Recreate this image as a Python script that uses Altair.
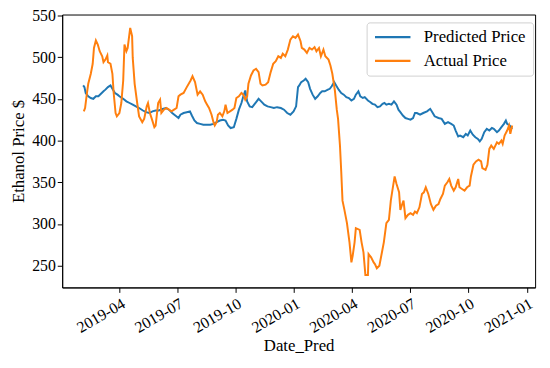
import altair as alt
import pandas as pd

# Day offsets counted from 2019-02-01, and prices
pred_day = [2, 4, 6, 10, 14, 18, 22, 26, 30, 34, 37, 41, 45, 48, 52, 56, 59, 65, 70, 75,
            80, 85, 90, 96, 101, 106, 111, 116, 121, 127, 132, 137, 142, 147, 152, 155, 160, 165, 170, 173,
            177, 181, 186, 191, 196, 202, 207, 212, 217, 222, 226, 230, 234, 239, 243, 247, 251, 254, 257, 260,
            264, 268, 271, 275, 278, 282, 287, 292, 297, 302, 307, 313, 318, 323, 328, 333, 337, 340, 342, 345,
            349, 352, 356, 359, 363, 367, 371, 375, 378, 382, 387, 390, 393, 397, 400, 404, 408, 412, 416, 420,
            424, 428, 431, 435, 438, 442, 445, 450, 454, 457, 461, 465, 469, 473, 476, 479, 483, 487, 491, 495,
            498, 501, 505, 509, 513, 517, 521, 524, 527, 532, 537, 543, 548, 552, 555, 561, 566, 571, 576, 581,
            585, 588, 592, 595, 600, 604, 607, 611, 615, 619, 623, 626, 629, 633, 637, 641, 645, 648, 653, 656,
            660, 664, 667, 669, 673, 677]
pred_price = [466, 464, 457, 453, 451, 450, 453, 453, 456, 459, 461, 464, 466, 462, 457, 455, 453, 450, 447, 445,
              443, 441, 439, 436, 434, 433, 435, 436, 436, 438, 439, 437, 433, 430, 427, 431, 433, 434, 435, 430,
              424, 421, 420, 419, 419, 419, 420, 422, 424, 425, 424, 418, 415, 416, 426, 437, 445, 453, 460, 447,
              441, 440, 443, 447, 450, 447, 443, 441, 440, 439, 440, 439, 437, 433, 431, 435, 441, 464, 466, 470,
              472, 474, 470, 462, 455, 450, 453, 457, 459, 459, 461, 462, 465, 470, 466, 461, 457, 455, 452, 451,
              448, 450, 455, 459, 453, 451, 452, 448, 446, 444, 443, 440, 441, 444, 445, 443, 444, 443, 447, 443,
              437, 434, 430, 427, 426, 425, 427, 433, 433, 431, 433, 435, 438, 433, 429, 427, 426, 420, 422, 420,
              418, 412, 405, 406, 404, 408, 406, 412, 407, 404, 402, 399, 402, 410, 414, 412, 415, 414, 410, 412,
              416, 420, 424, 420, 418, 414]

act_day = [3, 5, 8, 10, 14, 17, 19, 22, 25, 28, 32, 34, 37, 40, 41, 45, 48, 50, 53, 55,
           59, 62, 65, 67, 70, 72, 76, 79, 80, 83, 87, 90, 95, 98, 102, 104, 107, 110, 114, 116,
           120, 123, 125, 129, 133, 137, 141, 145, 149, 152, 155, 160, 165, 171, 174, 178, 182, 186, 190, 194,
           197, 200, 204, 207, 209, 212, 214, 217, 221, 224, 226, 229, 233, 237, 240, 243, 247, 251, 254, 257,
           260, 262, 266, 270, 274, 278, 281, 284, 289, 293, 297, 301, 305, 309, 313, 316, 320, 324, 328, 332,
           336, 340, 344, 346, 350, 354, 358, 362, 366, 369, 373, 376, 380, 383, 388, 391, 394, 398, 401, 403,
           406, 408, 410, 413, 417, 421, 424, 426, 429, 431, 437, 440, 443, 446, 450, 451, 455, 459, 461, 464,
           468, 471, 475, 479, 483, 486, 488, 492, 495, 499, 501, 504, 506, 509, 513, 517, 521, 524, 527, 531,
           535, 538, 541, 545, 549, 553, 557, 561, 564, 568, 571, 575, 578, 581, 585, 588, 592, 594, 598, 602,
           606, 610, 612, 616, 620, 624, 628, 630, 635, 638, 641, 644, 648, 653, 656, 660, 662, 665, 669, 672,
           674, 677]
act_price = [435, 439, 457, 468, 480, 492, 511, 520, 515, 507, 501, 494, 497, 502, 494, 492, 480, 457, 433, 429,
             433, 445, 472, 515, 507, 511, 535, 525, 499, 468, 445, 429, 422, 426, 441, 445, 433, 426, 416, 418,
             445, 449, 433, 437, 439, 437, 435, 437, 439, 453, 455, 457, 464, 472, 477, 470, 455, 459, 455, 447,
             443, 439, 431, 422, 418, 422, 431, 433, 429, 435, 443, 433, 435, 437, 439, 451, 453, 457, 455, 449,
             453, 468, 478, 484, 486, 482, 468, 466, 467, 470, 482, 492, 495, 501, 499, 504, 501, 509, 521, 525,
             523, 527, 519, 511, 509, 505, 511, 509, 512, 507, 511, 501, 509, 501, 497, 490, 480, 460, 437, 426,
             394, 363, 328, 317, 301, 278, 254, 262, 278, 295, 293, 278, 266, 239, 239, 264, 260, 254, 252, 247,
             250, 262, 278, 301, 305, 328, 338, 357, 348, 338, 317, 324, 328, 307, 311, 313, 311, 315, 313, 320,
             336, 338, 344, 336, 324, 317, 322, 324, 330, 336, 346, 350, 354, 346, 340, 344, 354, 344, 342, 340,
             344, 346, 357, 371, 375, 377, 375, 367, 365, 371, 390, 394, 390, 398, 396, 400, 396, 406, 412, 418,
             408, 418]

series_names = ["Predicted Price", "Actual Price"]
series_colors = ["#1f77b4", "#ff7f0e"]
y_ticks = [250, 300, 350, 400, 450, 500, 550]

base = pd.Timestamp("2019-02-01")


def to_dates(days):
    return [(base + pd.Timedelta(days=d)).strftime("%Y-%m-%d") for d in days]


pred_df = pd.DataFrame({"Date_Pred": to_dates(pred_day), "price": pred_price, "series": series_names[0]})
act_df = pd.DataFrame({"Date_Pred": to_dates(act_day), "price": act_price, "series": series_names[1]})

FONT = "Liberation Serif"

x_enc = alt.X(
    "Date_Pred:T",
    title="Date_Pred",
    scale=alt.Scale(
        type="utc",
        domain=[alt.DateTime(year=2019, month=1, date=1, utc=True),
                alt.DateTime(year=2021, month=1, date=14, utc=True)],
    ),
    axis=alt.Axis(
        values=[alt.DateTime(year=y, month=m, date=1, utc=True)
                for y, m in [(2019, 4), (2019, 7), (2019, 10), (2020, 1), (2020, 4), (2020, 7), (2020, 10), (2021, 1)]],
        format="%Y-%m",
        labelAngle=330,
        labelAlign="right",
        labelBaseline="top",
        labelPadding=3,
        labelFont=FONT,
        labelFontSize=16,
        titleFont=FONT,
        titlePadding=2,
    ),
)
y_enc = alt.Y(
    "price:Q",
    title="Ethanol Price $",
    scale=alt.Scale(domain=[224, 551], nice=False, zero=False),
    axis=alt.Axis(values=y_ticks, titlePadding=4, labelFont=FONT, labelFontSize=16, titleFont=FONT),
)
color_enc = alt.Color(
    "series:N",
    scale=alt.Scale(domain=series_names, range=series_colors),
    legend=alt.Legend(title=None, orient="none", legendX=309, legendY=8),
)

pred_line = alt.Chart(pred_df).mark_line(strokeWidth=2).encode(x=x_enc, y=y_enc, color=color_enc)
act_line = alt.Chart(act_df).mark_line(strokeWidth=2).encode(x=x_enc, y=y_enc, color=color_enc)

chart = (
    alt.layer(pred_line, act_line)
    .properties(
        width=480,
        height=277,
        autosize=alt.AutoSizeParams(type="none"),
        padding={"left": 55, "top": 4, "right": 7, "bottom": 70},
        background="white",
    )
    .configure_view(stroke="black", strokeWidth=1)
    .configure_axis(
        grid=False,
        domainColor="black",
        tickColor="black",
        tickSize=5,
        labelFont=FONT,
        labelFontSize=16,
        labelColor="black",
        titleFont=FONT,
        titleFontSize=17,
        titleFontWeight="normal",
        titleColor="black",
    )
    .configure_legend(
        symbolType="stroke",
        symbolSize=1296,
        symbolStrokeWidth=2.2,
        clipHeight=16,
        labelFont=FONT,
        labelFontSize=17,
        labelColor="black",
        labelOffset=12,
        rowPadding=7,
        padding=7,
        strokeColor="#d0d0d0",
        fillColor="white",
        cornerRadius=3,
    )
)

chart.save("out.html", embed_options={"renderer": "svg", "actions": False})
